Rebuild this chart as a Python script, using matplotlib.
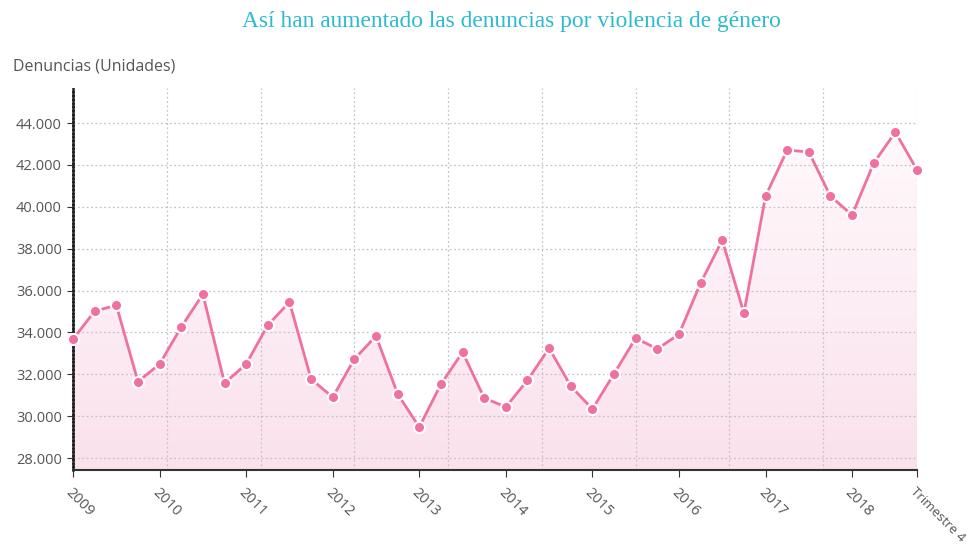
import numpy as np
import matplotlib
matplotlib.use('Agg')
import matplotlib.pyplot as plt
from matplotlib.ticker import FuncFormatter
from matplotlib.colors import LinearSegmentedColormap

# Denuncias por violencia de genero, trimestral 2009-2018
anios = ["2009", "2010", "2011", "2012", "2013", "2014", "2015", "2016", "2017", "2018"]
denuncias = [
    33680, 35020, 35300, 31650,   # 2009
    32490, 34260, 35830, 31580,   # 2010
    32490, 34350, 35450, 31770,   # 2011
    30910, 32730, 33830, 31060,   # 2012
    29480, 31530, 33060, 30870,   # 2013
    30440, 31720, 33250, 31440,   # 2014
    30340, 32030, 33730, 33210,   # 2015
    33920, 36360, 38410, 34930,   # 2016
    40510, 42710, 42620, 40510,   # 2017
    39610, 42090, 43570, 41760,   # 2018
]
etiqueta_final = "Trimestre 4"

rosa = "#f0709f"
gris_texto = "#555555"

fig = plt.figure(figsize=(9.74, 5.44), dpi=100)
ax = fig.add_axes([0.075, 0.136, 0.8665, 0.702])

x = np.arange(len(denuncias))
y = np.array(denuncias)
ymin, ymax = 27430, 45670

# relleno con degradado bajo la linea
gradiente = np.linspace(0, 1, 256).reshape(-1, 1)
cmap = LinearSegmentedColormap.from_list("rosa", ["#fae1ec", "#fffafc"])
img = ax.imshow(gradiente, extent=[0, len(x) - 1, ymin, 44000], origin="lower",
                aspect="auto", cmap=cmap, zorder=1)
poly = ax.fill_between(x, y, ymin, color="none", lw=0)
img.set_clip_path(poly.get_paths()[0], transform=ax.transData)

ax.plot(x, y, color=rosa, lw=2, zorder=3)
ax.plot(x, y, "o", color=rosa, markersize=8, markeredgecolor="white",
        markeredgewidth=1.5, zorder=4, clip_on=False)

ax.set_xlim(0, len(x) - 1)
ax.set_ylim(ymin, ymax)

# rejilla punteada
ax.set_yticks(np.arange(28000, 44001, 2000))
ax.yaxis.set_major_formatter(FuncFormatter(lambda v, p: f"{int(v):,}".replace(",", ".")))
for yy in np.arange(28000, 44001, 2000):
    ax.axhline(yy, color="#c4c4c4", lw=0.9, ls=(0, (1.5, 2)), zorder=2)
for xx in np.linspace(0, len(x) - 1, 10)[1:]:
    ax.axvline(xx, color="#c4c4c4", lw=0.9, ls=(0, (1.5, 2)), zorder=2)

ticks_x = list(range(0, len(x), 4)) + [len(x) - 1]
ax.set_xticks(ticks_x)
ax.set_xticklabels(anios + [etiqueta_final], rotation=-45, ha="left", va="top",
                   rotation_mode="anchor")

for lbl in ax.get_xticklabels() + ax.get_yticklabels():
    lbl.set_fontfamily("Open Sans")
    lbl.set_fontsize(10.5)
    lbl.set_color(gris_texto)
ax.get_xticklabels()[-1].set_fontsize(9.5)

ax.tick_params(axis="x", length=5, color="#333333", pad=6)
ax.tick_params(axis="y", length=4, color="#333333", pad=4)

for s in ["top", "right"]:
    ax.spines[s].set_visible(False)
ax.spines["left"].set_color("#222222")
ax.spines["left"].set_linewidth(1.8)
ax.spines["left"].set_linestyle((0, (1, 0.5)))
ax.spines["bottom"].set_color("#333333")
ax.spines["bottom"].set_linewidth(1.5)

fig.text(0.525, 0.96, "Así han aumentado las denuncias por violencia de género",
         ha="center", va="center", fontsize=16.8, color="#2bbbd0",
         family="Liberation Serif")
fig.text(0.013, 0.878, "Denuncias (Unidades)", ha="left", va="center",
         fontsize=11.5, color=gris_texto, family="Open Sans")

fig.savefig("out.png", dpi=100)
